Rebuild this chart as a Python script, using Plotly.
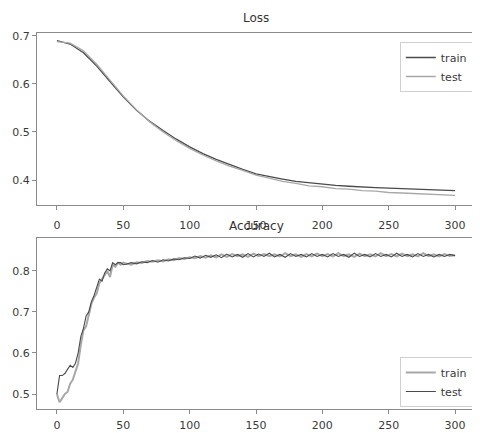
import plotly.graph_objects as go

# loss curves, read every 10 epochs
loss_epochs = list(range(0, 301, 10))
loss_train = [0.690, 0.683, 0.665, 0.637, 0.605, 0.573, 0.545, 0.522, 0.503, 0.485,
              0.469, 0.455, 0.443, 0.432, 0.422, 0.413, 0.407, 0.402, 0.397, 0.394,
              0.391, 0.389, 0.387, 0.385, 0.384, 0.383, 0.382, 0.381, 0.380, 0.379, 0.378]
loss_test = [0.688, 0.685, 0.669, 0.641, 0.608, 0.575, 0.546, 0.521, 0.500, 0.482,
             0.466, 0.452, 0.440, 0.429, 0.420, 0.410, 0.404, 0.397, 0.393, 0.388,
             0.386, 0.382, 0.381, 0.378, 0.377, 0.374, 0.373, 0.372, 0.371, 0.369, 0.368]

# accuracy curves: every 2 epochs up to 50, then every 4
acc_epochs = list(range(0, 51, 2)) + list(range(52, 301, 4))
acc_train = [0.500, 0.480, 0.490, 0.500, 0.505, 0.525, 0.535, 0.555, 0.575, 0.620,
             0.655, 0.665, 0.695, 0.720, 0.735, 0.745, 0.770, 0.780, 0.790, 0.800,
             0.785, 0.815, 0.810, 0.820, 0.815, 0.820,
             0.818, 0.815, 0.821, 0.819, 0.824, 0.822, 0.826, 0.823, 0.828, 0.826,
             0.831, 0.829, 0.833,
             0.831, 0.836, 0.832, 0.838, 0.833, 0.840, 0.834, 0.841, 0.836, 0.840,
             0.834, 0.842, 0.836, 0.841, 0.836, 0.840, 0.835, 0.843, 0.836, 0.840,
             0.834, 0.841, 0.835, 0.842, 0.836,
             0.841, 0.835, 0.843, 0.836, 0.840, 0.834, 0.842, 0.836, 0.840, 0.835,
             0.843, 0.836, 0.841, 0.835, 0.842, 0.836, 0.840, 0.835, 0.843, 0.836,
             0.840, 0.835, 0.841, 0.836, 0.838]
acc_test = [0.500, 0.545, 0.545, 0.550, 0.560, 0.570, 0.565, 0.575, 0.600, 0.640,
            0.660, 0.690, 0.700, 0.725, 0.740, 0.760, 0.780, 0.775, 0.795, 0.805,
            0.800, 0.820, 0.815, 0.820, 0.820, 0.815,
            0.816, 0.820, 0.817, 0.822, 0.820, 0.825, 0.821, 0.827, 0.824, 0.829,
            0.827, 0.832, 0.830,
            0.836, 0.831, 0.838, 0.833, 0.839, 0.832, 0.841, 0.834, 0.840, 0.833,
            0.842, 0.834, 0.841, 0.835, 0.843, 0.834, 0.840, 0.833, 0.842, 0.835,
            0.840, 0.834, 0.842, 0.835, 0.840,
            0.834, 0.842, 0.835, 0.840, 0.833, 0.843, 0.835, 0.840, 0.834, 0.842,
            0.835, 0.840, 0.834, 0.843, 0.835, 0.840, 0.834, 0.842, 0.835, 0.840,
            0.834, 0.840, 0.835, 0.840, 0.837]

DARK = '#4a4a4a'
LIGHT = '#a8a8a8'
FRAME = '#8a8a8a'
FONT = dict(family='DejaVu Sans', size=11, color='#3a3a3a')

# the page body adds an 8px offset, so the figure is drawn 8px smaller
OFF = 8
W, HT = 480 - OFF, 433 - OFF
# plotting area in window pixels: x 37..475, y 33..409
L, R, T, B = 37 - OFF, 475 - OFF, 33 - OFF, 409 - OFF
H = B - T


def py(y_px):
    # window pixel row -> paper fraction
    return (B - (y_px - OFF)) / H


fig = go.Figure()
fig.add_trace(go.Scatter(x=loss_epochs, y=loss_train, name='train', mode='lines',
                         line=dict(color=DARK, width=1.3), xaxis='x', yaxis='y', legend='legend'))
fig.add_trace(go.Scatter(x=loss_epochs, y=loss_test, name='test', mode='lines',
                         line=dict(color=LIGHT, width=1.3), xaxis='x', yaxis='y', legend='legend'))
fig.add_trace(go.Scatter(x=acc_epochs, y=acc_train, name='train', mode='lines',
                         line=dict(color=LIGHT, width=2), xaxis='x2', yaxis='y2', legend='legend2'))
fig.add_trace(go.Scatter(x=acc_epochs, y=acc_test, name='test', mode='lines',
                         line=dict(color=DARK, width=1.1), xaxis='x2', yaxis='y2', legend='legend2'))

axis_style = dict(showline=True, mirror=True, linecolor=FRAME, linewidth=1, showgrid=False,
                  zeroline=False, ticks='outside', ticklen=4, tickcolor=FRAME, tickfont=FONT,
                  automargin=False)
xticks = [0, 50, 100, 150, 200, 250, 300]

fig.update_layout(
    width=W,
    height=HT,
    margin=dict(l=L, r=W - R, t=T, b=HT - B, pad=0),
    paper_bgcolor='white',
    plot_bgcolor='white',
    font=FONT,
    xaxis=dict(domain=[0, 1], range=[-15, 315], tickvals=xticks, anchor='y',
               ticklabelstandoff=6, **axis_style),
    yaxis=dict(domain=[py(205), 1], range=[0.348, 0.706], tickvals=[0.4, 0.5, 0.6, 0.7],
               anchor='x', **axis_style),
    xaxis2=dict(domain=[0, 1], range=[-15, 315], tickvals=xticks, anchor='y2',
                ticklabelstandoff=2, **axis_style),
    yaxis2=dict(domain=[0, py(238)], range=[0.4636, 0.880], tickvals=[0.5, 0.6, 0.7, 0.8],
                anchor='x2', **axis_style),
    legend=dict(x=0.995, y=py(42), xanchor='right', yanchor='top', bgcolor='white',
                bordercolor='#d0d0d0', borderwidth=1, font=FONT, itemwidth=30),
    legend2=dict(x=0.995, y=py(357), xanchor='right', yanchor='top', bgcolor='white',
                 bordercolor='#d0d0d0', borderwidth=1, font=FONT, itemwidth=30),
    annotations=[
        dict(text='Loss', x=0.5, y=py(18), xref='paper', yref='paper', showarrow=False,
             xanchor='center', yanchor='middle', font=dict(family='DejaVu Sans', size=12, color='#333')),
        dict(text='Accuracy', x=0.5, y=py(226), xref='paper', yref='paper', showarrow=False,
             xanchor='center', yanchor='middle', font=dict(family='DejaVu Sans', size=12, color='#333')),
    ],
)

fig.write_html("out.html")
